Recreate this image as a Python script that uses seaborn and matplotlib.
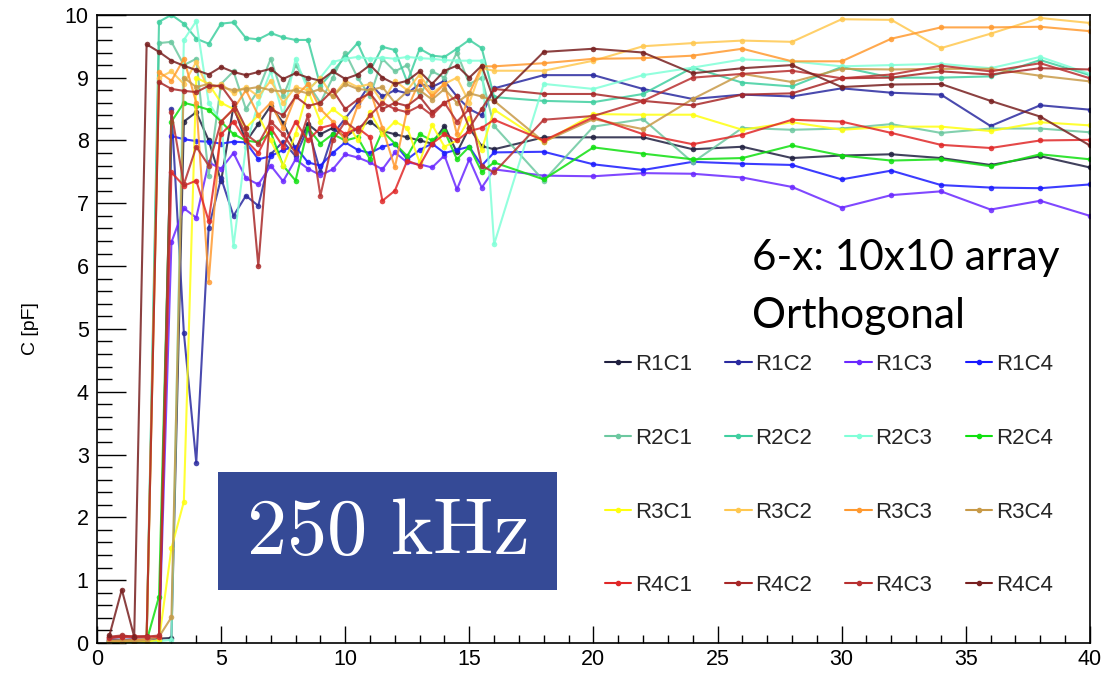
import matplotlib
matplotlib.use("Agg")
import matplotlib.pyplot as plt
import numpy as np
import pandas as pd
import seaborn as sns
from matplotlib.ticker import MultipleLocator
from matplotlib.lines import Line2D
from matplotlib.patches import Rectangle

# ---------------- data ----------------
freq = [0.5, 1.0, 1.5, 2.0, 2.5, 3.0, 3.5, 4.0, 4.5, 5.0, 5.5, 6.0, 6.5, 7.0, 7.5, 8.0,
        8.5, 9.0, 9.5, 10.0, 10.5, 11.0, 11.5, 12.0, 12.5, 13.0, 13.5, 14.0, 14.5, 15.0,
        15.5, 16.0, 18, 20, 22, 24, 26, 28, 30, 32, 34, 36, 38, 40]

R1C1 = [0.05, 0.05, 0.04, 0.06, 0.07, 0.08, 8.30, 8.45, 8.00, 7.35,
        8.55, 7.98, 8.26, 8.55, 8.28, 7.86, 8.26, 8.10, 8.20, 8.05,
        8.20, 8.30, 8.15, 8.10, 8.05, 8.00, 7.95, 8.23, 7.81, 8.20, 7.91, 7.86,
        8.05, 8.05, 8.05, 7.86, 7.90, 7.72, 7.76, 7.78, 7.72, 7.61, 7.75, 7.57]
R1C2 = [0.06, 0.05, 0.06, 0.05, 0.07, 8.50, 4.94, 2.87, 6.61, 7.40,
        6.80, 7.12, 6.96, 7.78, 7.98, 7.75, 8.20, 7.50, 8.10, 8.35,
        8.60, 8.90, 8.70, 8.80, 8.75, 8.90, 8.85, 8.95, 8.70, 8.50, 8.40, 8.83,
        9.04, 9.04, 8.82, 8.66, 8.73, 8.70, 8.83, 8.76, 8.73, 8.23, 8.56, 8.49]
R1C3 = [0.03, 0.02, 0.03, 0.02, 0.04, 6.38, 6.92, 6.77, 7.65, 7.55,
        7.80, 7.40, 7.30, 7.60, 7.35, 7.70, 7.55, 7.45, 7.54, 7.78,
        7.73, 7.65, 7.54, 7.81, 7.65, 7.62, 7.57, 7.76, 7.22, 7.70, 7.25, 7.54,
        7.44, 7.43, 7.48, 7.47, 7.41, 7.26, 6.93, 7.13, 7.19, 6.90, 7.04, 6.80]
R1C4 = [0.02, 0.03, 0.02, 0.03, 0.05, 8.07, 8.02, 7.99, 7.98, 7.95,
        7.98, 7.97, 7.70, 7.75, 7.85, 7.90, 7.65, 7.60, 7.80, 7.97,
        7.85, 7.80, 7.90, 7.95, 7.70, 7.85, 7.95, 7.80, 7.85, 7.90, 7.60, 7.81,
        7.82, 7.62, 7.53, 7.66, 7.63, 7.61, 7.38, 7.52, 7.29, 7.25, 7.24, 7.30]
R2C1 = [0.02, 0.03, 0.02, 0.03, 9.55, 9.57, 9.20, 9.30, 7.44, 8.90,
        9.10, 8.50, 8.80, 9.30, 8.70, 9.20, 8.90, 8.60, 9.00, 9.40,
        9.00, 8.70, 9.30, 9.10, 9.20, 8.70, 9.10, 9.00, 9.40, 8.90, 9.00, 8.23,
        7.36, 8.22, 8.34, 7.65, 8.20, 8.17, 8.19, 8.26, 8.12, 8.19, 8.19, 8.13]
R2C2 = [0.03, 0.02, 0.03, 0.02, 9.89, 10.0, 9.86, 9.62, 9.54, 9.86,
        9.88, 9.63, 9.61, 9.71, 9.64, 9.60, 9.60, 8.87, 9.10, 9.33,
        9.55, 9.11, 9.49, 9.44, 8.93, 9.46, 9.35, 9.33, 9.46, 9.60, 9.47, 8.69,
        8.63, 8.61, 8.74, 9.16, 8.92, 8.86, 9.17, 9.00, 9.00, 9.02, 9.28, 9.04]
R2C3 = [0.01, 0.02, 0.01, 0.02, 0.03, 0.05, 9.60, 9.90, 8.60, 8.30,
        6.32, 7.90, 8.60, 9.10, 8.40, 9.30, 8.80, 9.00, 9.25, 9.30,
        9.33, 9.30, 9.32, 9.30, 9.33, 9.31, 9.30, 9.28, 9.27, 9.27, 9.27, 6.35,
        8.90, 8.82, 9.04, 9.16, 9.29, 9.26, 9.18, 9.20, 9.22, 9.15, 9.33, 9.06]
R2C4 = [0.02, 0.01, 0.02, 0.03, 0.74, 8.30, 8.60, 8.55, 8.49, 8.30,
        8.10, 8.00, 7.97, 8.13, 7.60, 7.36, 8.20, 7.95, 8.10, 8.00,
        8.05, 7.70, 8.15, 7.95, 7.75, 8.10, 8.00, 8.15, 7.70, 7.90, 7.50, 7.65,
        7.38, 7.89, 7.79, 7.70, 7.72, 7.92, 7.76, 7.68, 7.70, 7.59, 7.78, 7.70]
R3C1 = [0.02, 0.02, 0.03, 0.02, 0.05, 1.51, 2.25, 9.00, 8.90, 8.60,
        8.50, 8.20, 8.40, 8.00, 7.60, 8.10, 8.80, 8.30, 8.50, 8.35,
        8.00, 8.45, 8.10, 8.30, 8.20, 7.65, 8.25, 7.90, 8.00, 8.35, 7.85, 8.49,
        7.97, 8.42, 8.41, 8.41, 8.17, 8.29, 8.17, 8.22, 8.22, 8.15, 8.29, 8.24]
R3C2 = [0.03, 0.04, 0.03, 0.05, 9.00, 9.10, 8.90, 9.25, 8.80, 8.90,
        8.75, 8.85, 8.70, 8.95, 8.60, 8.85, 8.80, 9.00, 8.70, 8.95,
        8.85, 8.90, 8.60, 8.95, 8.80, 9.05, 8.75, 8.90, 9.00, 8.60, 9.15, 9.11,
        9.11, 9.27, 9.50, 9.55, 9.59, 9.57, 9.93, 9.92, 9.47, 9.70, 9.95, 9.87]
R3C3 = [0.04, 0.03, 0.05, 0.06, 9.09, 8.95, 9.30, 8.60, 5.75, 8.30,
        8.50, 8.80, 8.40, 8.60, 8.20, 8.70, 8.90, 8.50, 8.30, 8.00,
        8.55, 8.80, 8.20, 7.57, 8.50, 8.95, 8.70, 8.90, 8.10, 8.75, 9.18, 9.18,
        9.23, 9.30, 9.31, 9.35, 9.46, 9.26, 9.26, 9.62, 9.80, 9.80, 9.81, 9.74]
R3C4 = [0.03, 0.04, 0.03, 0.04, 0.10, 0.41, 9.00, 8.85, 8.90, 8.85,
        8.80, 8.82, 8.85, 8.80, 8.78, 8.80, 8.75, 8.82, 8.70, 8.90,
        8.82, 8.80, 8.85, 8.60, 8.78, 8.80, 8.65, 8.82, 8.60, 8.75, 8.70, 8.63,
        7.98, 8.34, 8.18, 8.66, 9.06, 8.93, 9.14, 9.13, 9.14, 9.14, 9.03, 8.94]
R4C1 = [0.08, 0.10, 0.09, 0.10, 0.10, 7.49, 7.28, 7.36, 6.72, 8.10,
        8.30, 8.00, 7.80, 8.20, 7.90, 8.30, 8.00, 8.20, 8.25, 8.10,
        8.20, 8.05, 7.04, 7.20, 7.68, 7.60, 7.95, 8.10, 8.00, 8.15, 8.20, 8.33,
        8.00, 8.37, 8.10, 7.94, 8.09, 8.33, 8.30, 8.12, 7.93, 7.88, 8.00, 8.01]
R4C2 = [0.10, 0.12, 0.10, 0.11, 8.93, 8.82, 8.79, 8.77, 8.87, 8.87,
        8.60, 8.20, 6.00, 8.50, 8.40, 8.70, 8.55, 8.60, 8.80, 8.50,
        8.65, 8.75, 8.50, 8.60, 8.55, 8.70, 8.45, 8.60, 8.70, 8.20, 8.50, 8.82,
        8.74, 8.74, 8.63, 8.56, 8.73, 8.75, 8.99, 9.00, 9.10, 9.05, 9.15, 9.13]
R4C3 = [0.09, 0.10, 0.11, 0.10, 0.12, 8.45, 7.30, 7.90, 7.60, 8.30,
        8.50, 8.10, 7.95, 8.30, 8.10, 7.80, 8.40, 7.12, 8.00, 8.30,
        8.15, 8.40, 8.60, 8.50, 8.45, 8.55, 8.40, 8.60, 8.30, 8.50, 7.60, 7.49,
        8.33, 8.39, 8.63, 9.00, 9.06, 9.11, 8.99, 9.05, 9.19, 9.10, 9.23, 8.99]
R4C4 = [0.12, 0.85, 0.10, 9.53, 9.41, 9.27, 9.19, 9.12, 9.05, 9.17,
        9.09, 9.04, 9.09, 9.14, 8.98, 9.07, 9.00, 8.95, 9.10, 8.98,
        9.05, 9.20, 9.00, 8.90, 8.95, 9.10, 8.90, 9.11, 9.19, 9.00, 9.19, 8.63,
        9.41, 9.46, 9.40, 9.07, 9.15, 9.20, 8.85, 8.89, 8.90, 8.63, 8.38, 7.92]

names = ["R1C1", "R1C2", "R1C3", "R1C4", "R2C1", "R2C2", "R2C3", "R2C4",
         "R3C1", "R3C2", "R3C3", "R3C4", "R4C1", "R4C2", "R4C3", "R4C4"]
values = [R1C1, R1C2, R1C3, R1C4, R2C1, R2C2, R2C3, R2C4,
          R3C1, R3C2, R3C3, R3C4, R4C1, R4C2, R4C3, R4C4]
colors = ["#202040", "#2a2aa0", "#6a28ff", "#1a1aff",
          "#6cc8a0", "#40cfa0", "#80ffd8", "#10e010",
          "#ffff10", "#ffc850", "#ff9a30", "#c89a48",
          "#e02828", "#a82828", "#b83030", "#782020"]
palette = dict(zip(names, colors))

df = pd.DataFrame([(n, f, v) for n, vals in zip(names, values) for f, v in zip(freq, vals)],
                  columns=["series", "freq", "C"])

# ---------------- style ----------------
sns.set_theme(style="ticks")
plt.rcParams["font.family"] = ["Liberation Sans", "DejaVu Sans"]

fig = plt.figure(figsize=(11.02, 6.74), dpi=100)
ax = fig.add_axes([0.088, 0.046, 0.901, 0.932])

sns.lineplot(data=df, x="freq", y="C", hue="series", hue_order=names, palette=palette,
             marker="o", markersize=4, markeredgewidth=0, linewidth=1.5, alpha=0.85,
             estimator=None, sort=False, legend=False, ax=ax)

ax.set_xlim(0, 40)
ax.set_ylim(0, 10)
ax.set_xlabel("")
ax.set_ylabel("C [pF]", fontsize=14, color="black")
ax.yaxis.set_label_coords(-0.058, 0.5)

ax.xaxis.set_major_locator(MultipleLocator(5))
ax.xaxis.set_minor_locator(MultipleLocator(1))
ax.yaxis.set_major_locator(MultipleLocator(1))
ax.yaxis.set_minor_locator(MultipleLocator(0.2))
ax.tick_params(axis="both", which="both", direction="in", top=False, right=False,
               colors="black", labelsize=15.5, width=1.0)
ax.tick_params(axis="y", which="major", length=21, pad=6)
ax.tick_params(axis="y", which="minor", length=11)
ax.tick_params(axis="x", which="major", length=12, pad=4)
ax.tick_params(axis="x", which="minor", length=6)
for s in ax.spines.values():
    s.set_visible(True)
    s.set_color("black")
    s.set_linewidth(1.2)

# ---------------- annotations ----------------
fig.text(0.682, 0.617, "6-x: 10x10 array", fontsize=30.5, family=["Lato", "DejaVu Sans"],
         va="center", ha="left", color="black")
fig.text(0.682, 0.531, "Orthogonal", fontsize=30.5, family=["Lato", "DejaVu Sans"],
         va="center", ha="left", color="black")

fig.patches.append(Rectangle((0.198, 0.125), 0.307, 0.175, transform=fig.transFigure,
                             facecolor="#354a96", edgecolor="none", zorder=5))
fig.text(0.351, 0.209, r"$\mathrm{250\ kHz}$", math_fontfamily="cm", fontsize=58,
         color="white", ha="center", va="center", zorder=6)

# ---------------- legend (row-major order) ----------------
order = [0, 4, 8, 12, 1, 5, 9, 13, 2, 6, 10, 14, 3, 7, 11, 15]
handles = [Line2D([0], [0], color=colors[i], marker="o", markersize=3, lw=1.5) for i in order]
labels = [names[i] for i in order]
fig.legend(handles, labels, loc="center", bbox_to_anchor=(0.752, 0.295),
           bbox_transform=fig.transFigure, ncol=4, frameon=False, fontsize=16,
           handlelength=1.2, handletextpad=0.15, columnspacing=1.5, labelspacing=2.37,
           borderpad=0)

fig.savefig("out.png", dpi=100)
